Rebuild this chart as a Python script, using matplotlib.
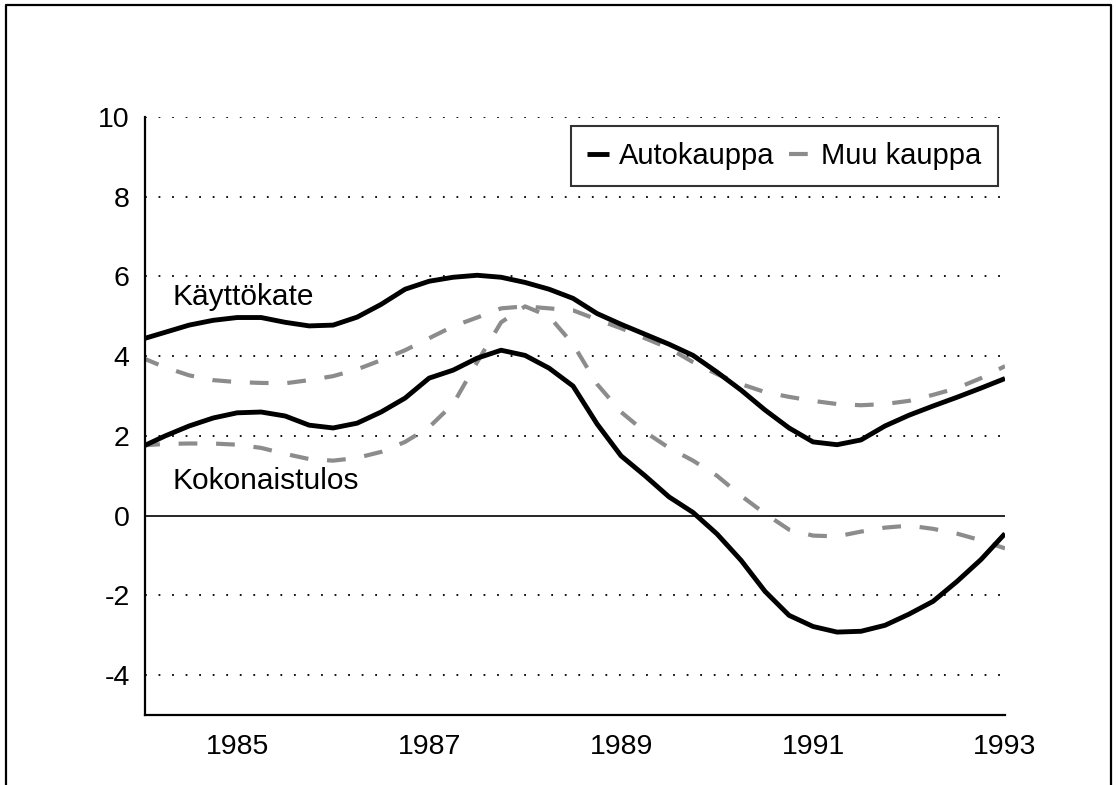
import matplotlib
matplotlib.use("Agg")
import matplotlib.pyplot as plt
from matplotlib.lines import Line2D

# ---- data ----
years = [1984.0, 1984.25, 1984.5, 1984.75, 1985.0, 1985.25, 1985.5, 1985.75,
         1986.0, 1986.25, 1986.5, 1986.75, 1987.0, 1987.25, 1987.5, 1987.75,
         1988.0, 1988.25, 1988.5, 1988.75, 1989.0, 1989.25, 1989.5, 1989.75,
         1990.0, 1990.25, 1990.5, 1990.75, 1991.0, 1991.25, 1991.5, 1991.75,
         1992.0, 1992.25, 1992.5, 1992.75, 1993.0]

kate_auto = [4.42, 4.60, 4.78, 4.90, 4.97, 4.97, 4.85, 4.76,
             4.78, 4.98, 5.30, 5.68, 5.88, 5.98, 6.03, 5.98,
             5.85, 5.68, 5.45, 5.07, 4.80, 4.55, 4.30, 4.02,
             3.60, 3.15, 2.65, 2.20, 1.85, 1.78, 1.90, 2.25,
             2.52, 2.75, 2.97, 3.20, 3.44]

kate_muu = [3.97, 3.72, 3.52, 3.40, 3.35, 3.33, 3.32, 3.40,
            3.50, 3.67, 3.90, 4.15, 4.45, 4.75, 4.97, 5.20,
            5.25, 5.20, 5.15, 4.92, 4.70, 4.45, 4.20, 3.85,
            3.55, 3.30, 3.10, 2.98, 2.88, 2.80, 2.77, 2.80,
            2.88, 3.03, 3.20, 3.45, 3.75]

tulos_auto = [1.72, 2.00, 2.25, 2.45, 2.58, 2.60, 2.50, 2.27,
              2.20, 2.32, 2.60, 2.95, 3.45, 3.65, 3.95, 4.15,
              4.02, 3.70, 3.25, 2.30, 1.50, 1.00, 0.47, 0.08,
              -0.46, -1.12, -1.90, -2.50, -2.78, -2.92, -2.90, -2.75,
              -2.47, -2.15, -1.65, -1.10, -0.45]

tulos_muu = [1.76, 1.80, 1.81, 1.81, 1.78, 1.70, 1.55, 1.42,
             1.38, 1.45, 1.60, 1.85, 2.22, 2.80, 3.85, 4.85,
             5.25, 5.00, 4.30, 3.30, 2.60, 2.10, 1.70, 1.38,
             1.00, 0.50, 0.05, -0.35, -0.50, -0.52, -0.40, -0.30,
             -0.25, -0.33, -0.45, -0.62, -0.82]

x_ticks = [1985, 1987, 1989, 1991, 1993]
y_ticks = [-4, -2, 0, 2, 4, 6, 8, 10]
grid_levels = [-4, -2, 2, 4, 6, 8, 10]
series_names = ["Autokauppa", "Muu kauppa"]
label_kate = "Käyttökate"
label_tulos = "Kokonaistulos"

# ---- styling ----
plt.rcParams['font.family'] = ['Liberation Sans', 'DejaVu Sans']

W, H = 1118, 785
fig = plt.figure(figsize=(W / 100, H / 100), dpi=100)

# outer frame (left, top, right edges)
fx0, fx1, fy1 = 6 / W, 1111 / W, 1 - 5 / H
fig.add_artist(Line2D([fx0, fx0, fx1, fx1], [0, fy1, fy1, 0],
                      transform=fig.transFigure, color='black', lw=1.6))

ax = fig.add_axes([145 / W, 70 / H, 860 / W, 598 / H])

ax.set_xlim(1984.04, 1993)
ax.set_ylim(-5, 10)

grey = '#8c8c8c'
solid_kw = dict(color='black', lw=3.5, solid_capstyle='butt', solid_joinstyle='round')
dash_kw = dict(color=grey, lw=3.0, dashes=(4.5, 4.5))

for lev in grid_levels:
    ax.axhline(lev, color='black', lw=1.3, linestyle=(0, (1.0, 6.5)), zorder=1)
ax.axhline(0, color='black', lw=1.2, zorder=1)

l1, = ax.plot(years, kate_auto, **solid_kw, zorder=3)
ax.plot(years, tulos_auto, **solid_kw, zorder=3)
l2, = ax.plot(years, kate_muu, **dash_kw, zorder=2)
ax.plot(years, tulos_muu, **dash_kw, zorder=2)

ax.text(1984.33, 5.48, label_kate, fontsize=21.5, va='center', ha='left')
ax.text(1984.33, 0.88, label_tulos, fontsize=21.5, va='center', ha='left')

ax.set_xticks(x_ticks)
ax.set_xticklabels([str(v) for v in x_ticks], fontsize=20.5)
ax.set_yticks(y_ticks)
ax.set_yticklabels([str(v) for v in y_ticks], fontsize=20.5)
ax.tick_params(axis='both', length=0)
ax.tick_params(axis='y', pad=11)
ax.tick_params(axis='x', pad=14)

for s in ['top', 'right']:
    ax.spines[s].set_visible(False)
for s in ['left', 'bottom']:
    ax.spines[s].set_linewidth(1.6)

leg = ax.legend([l1, l2], series_names, ncol=2, fontsize=21,
                loc='upper right', bbox_to_anchor=(0.9915, 0.985),
                frameon=True, fancybox=False, edgecolor='black',
                handlelength=0.75, handletextpad=0.35, columnspacing=0.5,
                borderpad=0.55, borderaxespad=0.0)
leg.get_frame().set_linewidth(1.5)

fig.savefig('out.png', dpi=100, facecolor='white')
